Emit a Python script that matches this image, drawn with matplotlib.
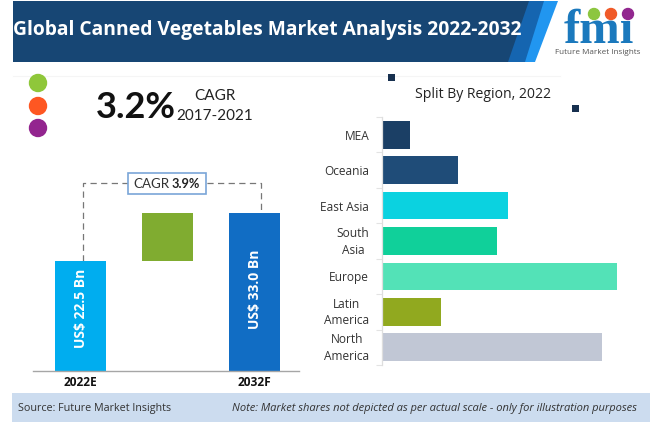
import matplotlib
matplotlib.use("Agg")
import matplotlib.pyplot as plt
from matplotlib.patches import Polygon, Rectangle, Circle
from matplotlib.transforms import ScaledTranslation

# Market size bars (US$ Bn)
years = ["2022E", "", "2032F"]
start_value = 22.5
end_value = 33.0
year_colors = ["#00adef", "#80ac30", "#116dc4"]

# Region bars, no scale on the original so read in pixels of bar length
regions = ["North\nAmerica", "Latin\nAmerica", "Europe", "South\nAsia", "East Asia", "Oceania", "MEA"]
region_values = [220, 59, 235, 115, 126, 76, 28]
region_colors = ["#c1c7d5", "#91a91f", "#53e2b7", "#10d09a", "#0bd2e0", "#1f4c78", "#1b3f65"]

W = 650
H = 423
plt.rcParams['font.family'] = ['Open Sans', 'DejaVu Sans']

fig = plt.figure(figsize=(W / 100, H / 100), dpi=100, facecolor="white")


# Makes an axes from pixel positions measured from the top left corner.
def pixel_axes(left, top, right, bottom):
    return fig.add_axes([left / W, 1 - bottom / H, (right - left) / W, (bottom - top) / H])


# Background layer in pixel coordinates for banner, logo, footer and the loose text
bg = fig.add_axes([0, 0, 1, 1])
bg.set_xlim(0, W)
bg.set_ylim(H, 0)
bg.axis("off")

bg.add_patch(Polygon([(13, 1), (558, 1), (535, 62), (13, 62)], color="#2196f0", lw=0))
bg.add_patch(Polygon([(13, 1), (544, 1), (525, 62), (13, 62)], color="#1565b0", lw=0))
bg.add_patch(Polygon([(13, 1), (529, 1), (508, 62), (13, 62)], color="#174674", lw=0))
bg.text(13, 30, "Global Canned Vegetables Market Analysis 2022-2032", color="white",
        fontsize=13.9, fontweight="bold", va="center", ha="left", family="Open Sans")

# Logo
bg.text(599, 43, "fmi", color="#1b79bd", fontsize=35, fontweight="bold", family="Liberation Serif",
        ha="center", va="baseline")
for y in range(14, 47, 4):
    bg.plot([555, 645], [y, y], color="white", lw=0.8)
bg.add_patch(Circle((594, 14), 5.5, color="#8cc63f", zorder=3))
bg.add_patch(Circle((611, 14), 5.5, color="#f05a28", zorder=3))
bg.add_patch(Circle((628, 14), 5.5, color="#92278f", zorder=3))
bg.text(598, 52, "Future Market Insights", color="#555555", fontsize=5.9, ha="center", va="center")

bg.plot([13, 560], [76, 76], color="#f5f5f5", lw=0.8)
bg.add_patch(Rectangle((388, 74), 7, 7, color="#17304f", lw=0, zorder=3))
bg.add_patch(Rectangle((572, 105), 7, 7, color="#17304f", lw=0, zorder=3))

# CAGR dots and text
for y, c in zip([83, 106, 128], ["#8fc73a", "#fe5722", "#93258f"]):
    bg.add_patch(Circle((38, y), 8.5, color=c, zorder=3))
bg.text(136, 107, "3.2%", fontsize=26, fontweight="bold", color="#111111", ha="center", va="center", family="Lato")
bg.text(215, 96, "CAGR", fontsize=11, color="#222222", ha="center", va="center", family="Lato")
bg.text(215, 116, "2017-2021", fontsize=11, color="#222222", ha="center", va="center", family="Lato")

# Dashed bracket over the two bars
bg.plot([82.5, 82.5, 261, 261], [261, 183, 183, 213], color="#777777", lw=0.9, ls=(0, (5, 3.5)))
bg.add_patch(Rectangle((127.5, 173.5), 78, 20.5, fc="white", ec="#7aa6d8", lw=1.2, zorder=3))
bg.text(170, 184, "CAGR", fontsize=9.6, color="#333333", ha="right", va="center", zorder=4, family="Lato")
bg.text(172, 184, "3.9%", fontsize=9.2, fontweight="bold", color="#222222", ha="left", va="center", zorder=4, family="Lato")

bg.text(483, 94, "Split By Region, 2022", fontsize=10.1, color="#222222", ha="center", va="center")

# Footer
bg.add_patch(Rectangle((12, 393), W - 12, 29, color="#ccdcef", lw=0))
bg.text(18, 408, "Source: Future Market Insights", fontsize=7.75, color="#333333", va="center")
bg.text(637, 408, "Note: Market shares not depicted as per actual scale - only for illustration purposes",
        fontsize=8.05, style="italic", color="#333333", va="center", ha="right")

# Left chart, the base sits a little under zero so both bars fit the picture
base = -1.5
ax = pixel_axes(33, 200, 299, 370.5)
ax.patch.set_alpha(0)
ax.bar([0, 2], [start_value - base, end_value - base], bottom=base, width=0.586,
       color=[year_colors[0], year_colors[2]])
ax.bar([1], [end_value - start_value], bottom=start_value, width=0.586, color=year_colors[1])
ax.set_xlim(-0.546, 2.511)
ax.set_ylim(base, base + (end_value - base) * 170.5 / 157.5)
ax.set_xticks([0, 1, 2])
ax.set_xticklabels(years, fontsize=8.6, fontweight="bold", color="#111111")
ax.tick_params(axis="x", length=0, pad=4)
ax.set_yticks([])
for s in ["top", "left", "right"]:
    ax.spines[s].set_visible(False)
ax.spines["bottom"].set_color("#a6a6a6")
ax.spines["bottom"].set_linewidth(1.0)
ax.text(0, (start_value + base) / 2 + 1.5, "US$ %.1f Bn" % start_value, rotation=90, color="white",
        fontsize=10, fontweight="bold", ha="center", va="center")
ax.text(2, (end_value + base) / 2 + 0.5, "US$ %.1f Bn" % end_value, rotation=90, color="white",
        fontsize=10, fontweight="bold", ha="center", va="center")

# Right chart
ax2 = pixel_axes(381.7, 117, 640, 365)
ax2.patch.set_alpha(0)
ax2.barh(range(len(regions)), region_values, height=0.78, color=region_colors)
ax2.set_xlim(0, 258.3)
ax2.set_ylim(-0.5, len(regions) - 0.5)
ax2.set_xticks([])
ax2.set_yticks(range(len(regions)))
ax2.set_yticklabels(regions, fontsize=8.6, color="#333333", multialignment="center", linespacing=1.35)
ax2.tick_params(axis="y", length=0, pad=9)
ax2.set_yticks([i - 0.5 for i in range(len(regions) + 1)], minor=True)
ax2.tick_params(axis="y", which="minor", length=4, color="#e3e3e3", width=0.8)
# nudge the two line region labels up a bit, they sit low otherwise
for label in ax2.get_yticklabels():
    if "\n" in label.get_text():
        label.set_transform(label.get_transform() + ScaledTranslation(0, 2.5 / 100, fig.dpi_scale_trans))
for s in ["top", "bottom", "right"]:
    ax2.spines[s].set_visible(False)
ax2.spines["left"].set_color("#dedede")
ax2.spines["left"].set_linewidth(0.9)

fig.savefig("out.png", dpi=100)
